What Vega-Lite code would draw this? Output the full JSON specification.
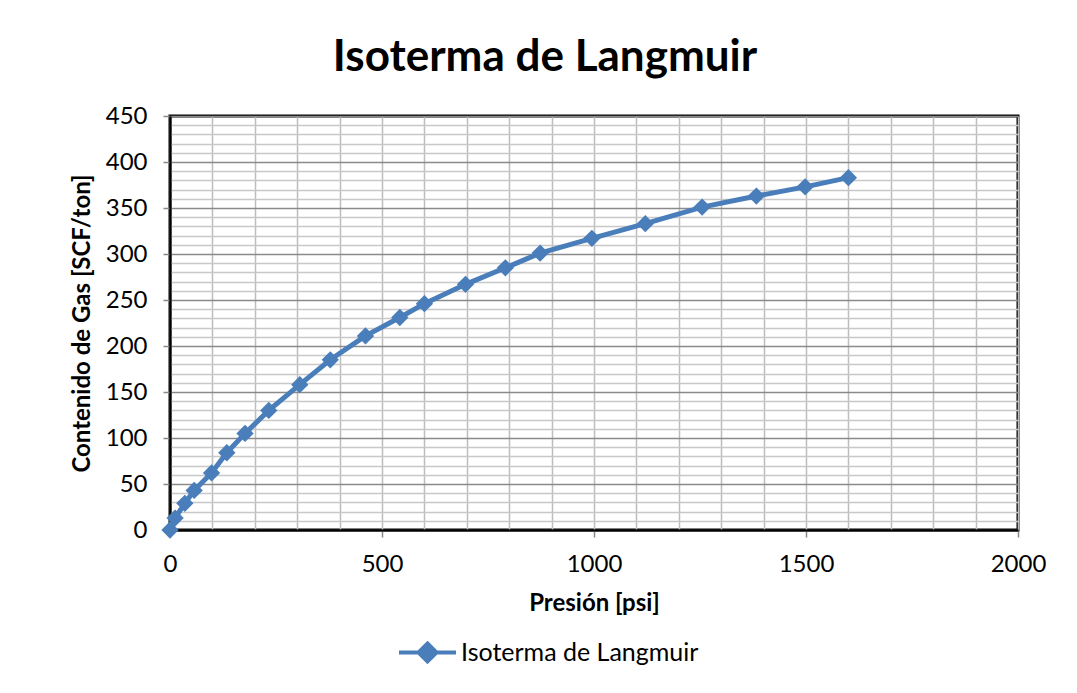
{
  "$schema": "https://vega.github.io/schema/vega-lite/v6.json",
  "width": 848,
  "height": 414,
  "autosize": {"type": "none"},
  "padding": {"left": 170, "top": 116, "right": 59, "bottom": 163},
  "background": "white",
  "title": {
    "text": "Isoterma de Langmuir",
    "font": "Lato",
    "fontSize": 44,
    "fontWeight": "bold",
    "color": "black",
    "anchor": "middle",
    "baseline": "alphabetic",
    "offset": -11,
    "dx": -49
  },
  "data": {
    "values": [
      {"presion": 0, "gas": 0, "serie": "Isoterma de Langmuir"},
      {"presion": 12, "gas": 13, "serie": "Isoterma de Langmuir"},
      {"presion": 35, "gas": 29, "serie": "Isoterma de Langmuir"},
      {"presion": 57, "gas": 43, "serie": "Isoterma de Langmuir"},
      {"presion": 98, "gas": 62, "serie": "Isoterma de Langmuir"},
      {"presion": 134, "gas": 84, "serie": "Isoterma de Langmuir"},
      {"presion": 177, "gas": 105, "serie": "Isoterma de Langmuir"},
      {"presion": 233, "gas": 130, "serie": "Isoterma de Langmuir"},
      {"presion": 306, "gas": 158, "serie": "Isoterma de Langmuir"},
      {"presion": 378, "gas": 185, "serie": "Isoterma de Langmuir"},
      {"presion": 461, "gas": 211, "serie": "Isoterma de Langmuir"},
      {"presion": 542, "gas": 231, "serie": "Isoterma de Langmuir"},
      {"presion": 600, "gas": 246, "serie": "Isoterma de Langmuir"},
      {"presion": 697, "gas": 267, "serie": "Isoterma de Langmuir"},
      {"presion": 791, "gas": 285, "serie": "Isoterma de Langmuir"},
      {"presion": 873, "gas": 301, "serie": "Isoterma de Langmuir"},
      {"presion": 995, "gas": 317, "serie": "Isoterma de Langmuir"},
      {"presion": 1121, "gas": 333, "serie": "Isoterma de Langmuir"},
      {"presion": 1255, "gas": 351, "serie": "Isoterma de Langmuir"},
      {"presion": 1383, "gas": 363, "serie": "Isoterma de Langmuir"},
      {"presion": 1498, "gas": 373, "serie": "Isoterma de Langmuir"},
      {"presion": 1600, "gas": 383, "serie": "Isoterma de Langmuir"}
    ]
  },
  "encoding": {
    "x": {
      "field": "presion",
      "type": "quantitative",
      "scale": {"domain": [0, 2000], "nice": false, "zero": false},
      "axis": {
        "title": "Presión [psi]",
        "values": [0,100,200,300,400,500,600,700,800,900,1000,1100,1200,1300,1400,1500,1600,1700,1800,1900,2000],
        "labelExpr": "datum.value % 500 === 0 ? datum.label : ''",
        "labelOverlap": false,
        "labelFlush": false,
        "format": "d",
        "tickOpacity": {"condition": {"test": "datum.value % 500 === 0", "value": 1}, "value": 0},
        "grid": true,
        "gridColor": "#bdbdbd",
        "gridWidth": 1.5,
        "labelPadding": 15,
        "titlePadding": 15
      }
    },
    "y": {
      "field": "gas",
      "type": "quantitative",
      "scale": {"domain": [0, 450], "nice": false, "zero": false},
      "axis": {
        "title": "Contenido de Gas [SCF/ton]",
        "values": [0,10,20,30,40,50,60,70,80,90,100,110,120,130,140,150,160,170,180,190,200,210,220,230,240,250,260,270,280,290,300,310,320,330,340,350,360,370,380,390,400,410,420,430,440,450],
        "labelExpr": "datum.value % 50 === 0 ? datum.label : ''",
        "labelOverlap": false,
        "labelFlush": false,
        "format": "d",
        "tickOpacity": {"condition": {"test": "datum.value % 50 === 0", "value": 1}, "value": 0},
        "grid": true,
        "gridColor": {"condition": {"test": "datum.value % 50 === 0", "value": "#8a8a8a"}, "value": "#c8c8c8"},
        "gridWidth": 1.5,
        "labelPadding": 16,
        "titlePadding": 11
      }
    },
    "color": {
      "field": "serie",
      "type": "nominal",
      "scale": {"range": ["#4A7EBB"]},
      "legend": {
        "title": null,
        "orient": "none",
        "legendX": 245,
        "legendY": 524,
        "symbolType": "M-3.17,0L3.17,0M0,-1L1,0L0,1L-1,0Z",
        "symbolSize": 324,
        "symbolStrokeWidth": 4,
        "symbolFillColor": "#4A7EBB",
        "symbolStrokeColor": "#4A7EBB",
        "labelOffset": 21,
        "labelFont": "Lato",
        "labelFontSize": 25,
        "labelColor": "black",
        "labelLimit": 400
      }
    }
  },
  "layer": [
    {"mark": {"type": "line", "strokeWidth": 5, "clip": false}},
    {"mark": {"type": "point", "shape": "diamond", "filled": true, "size": 300, "opacity": 1, "clip": false}}
  ],
  "config": {
    "view": {"stroke": "black", "strokeWidth": 3},
    "axis": {
      "labelFont": "Lato",
      "labelFontSize": 24,
      "labelColor": "black",
      "titleFont": "Lato",
      "titleFontSize": 24,
      "titleFontWeight": "bold",
      "titleColor": "black",
      "domainColor": "black",
      "domainWidth": 2,
      "tickColor": "#888888",
      "tickSize": 7,
      "tickWidth": 1.5
    }
  }
}
